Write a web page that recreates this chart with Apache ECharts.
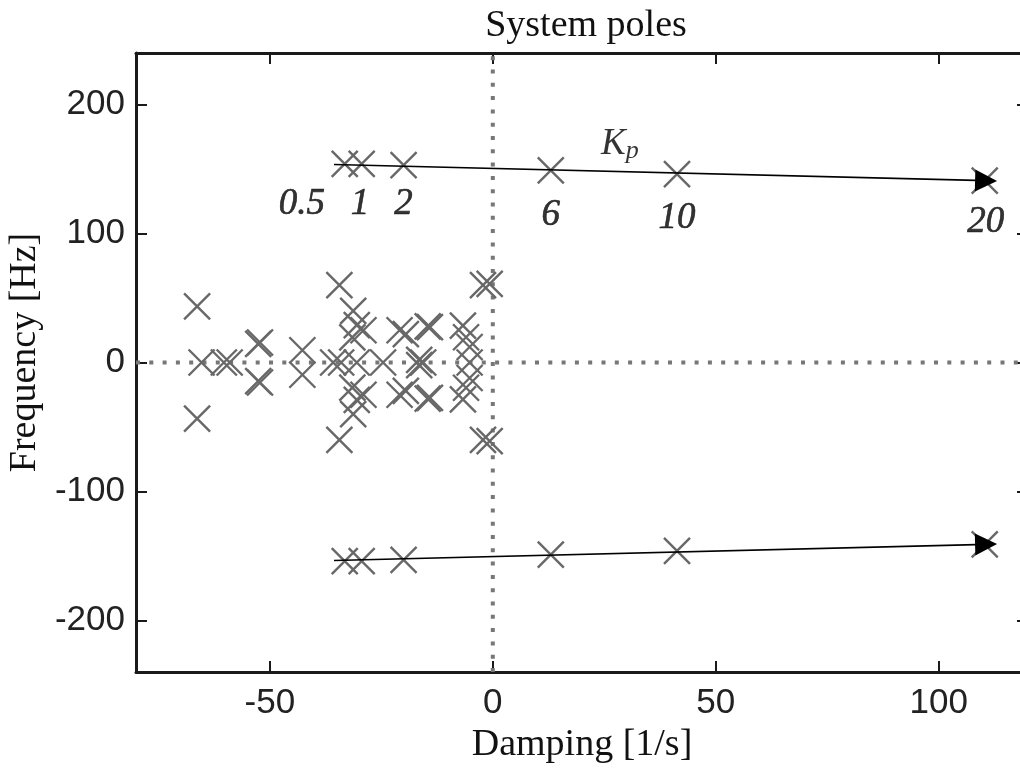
<!DOCTYPE html>
<html>
<head>
<meta charset="utf-8">
<script src="https://cdn.jsdelivr.net/npm/echarts@6/dist/echarts.min.js"></script>
<style>
  html, body { margin: 0; padding: 0; background: #fff; }
  #chart { width: 1020px; height: 769px; }
</style>
</head>
<body>
<div id="chart"></div>
<script>
// Closed-loop poles for gains Kp = 0.5 ... 20 (real part [1/s], imaginary part [Hz])

// Dominant branch, one pole per gain value (upper half-plane; the lower branch is its conjugate)
const kpValues   = ['0.5', '1', '2', '6', '10', '20'];
const branchRe   = [-33.2, -29.4, -20.0, 13.0, 41.3, 110.3];
const branchIm   = [154, 154, 153, 149, 146, 141];

// Locus arrow drawn through the dominant branch
const arrowStart = [-35.6, 153.5];
const arrowEnd   = [110.6, 141];

// Remaining poles (well damped modes), as [re, im]
const clusterPoles = [
  [-66.3, 43.5], [-66.3, -43.5], [-65.3, 0],
  [-60.3, 0], [-59.0, 0],
  [-52.6, 14.5], [-52.6, -14.5], [-52.2, 15.5], [-52.2, -15.5],
  [-42.7, 9.5], [-42.7, -9.5],
  [-34.4, 60], [-34.4, -60],
  [-35.8, 0], [-34.0, 0], [-30.5, 0],
  [-31.3, 40], [-31.3, -40], [-30.5, 29], [-30.5, -29], [-29.0, 25], [-29.0, -25],
  [-31.5, 19.5], [-31.5, -19.5],
  [-24.6, 0],
  [-20.9, 25], [-20.9, -25], [-19.5, 22], [-19.5, -22],
  [-14.1, 27.5], [-14.1, -27.5], [-14.6, 28], [-14.6, -28],
  [-15.6, 0], [-16.5, 2], [-16.5, -2],
  [-6.7, 28.6], [-6.7, -28.6], [-6.0, 19.6], [-6.0, -19.6],
  [-5.2, 12], [-5.2, -12], [-5.2, 0],
  [-2.2, 60], [-2.2, -60], [-0.7, 61], [-0.7, -61]
];

// Gain annotations, placed in data coordinates
const kpLabelPos = [[-42.8, 123], [-29.8, 123], [-20.0, 123], [13.0, 114], [41.3, 112], [110.5, 109]];
const kpTitlePos = [28.5, 169];

const xRange = [-80, 120];
const yRange = [-240, 240];
const xTickValues = [-50, 0, 50, 100];
const yTickValues = [-200, -100, 0, 100, 200];

const poleColor = '#686868';
const crossPath = 'path://M0,0L10,10M10,0L0,10';

const allPoles = [];
branchRe.forEach((re, i) => {
  allPoles.push([re, branchIm[i]]);
  allPoles.push([re, -branchIm[i]]);
});
clusterPoles.forEach(p => allPoles.push(p));

const chart = echarts.init(document.getElementById('chart'));

const serif = '"Liberation Serif", "DejaVu Serif", serif';
const sans = '"Liberation Sans", Arial, sans-serif';

const axisLine = { show: true, onZero: false, lineStyle: { color: '#1a1a1a', width: 3 } };
const tickStyle = { show: true, inside: true, length: 11, lineStyle: { color: '#1a1a1a', width: 2 } };
const zeroLineStyle = { color: '#777', width: 4, type: [4, 9.3], cap: 'butt' };

chart.setOption({
  animation: false,
  backgroundColor: '#fff',
  title: {
    text: 'System poles',
    left: 581, top: 2,
    textAlign: 'center',
    textStyle: { fontFamily: serif, fontSize: 38, fontWeight: 'normal', color: '#111' }
  },
  // the right edge of the frame sits just past the canvas
  grid: { left: 136, top: 53, width: 892, height: 619, containLabel: false, outerBoundsMode: 'none' },
  xAxis: [{
    type: 'value', min: xRange[0], max: xRange[1],
    axisLine,
    axisTick: Object.assign({}, tickStyle, { customValues: xTickValues }),
    splitLine: { show: false },
    axisLabel: {
      margin: 14, fontFamily: sans, fontSize: 35, color: '#222',
      customValues: xTickValues
    },
    name: 'Damping [1/s]', nameLocation: 'middle', nameGap: 50,
    nameTextStyle: { fontFamily: serif, fontSize: 38, color: '#111' }
  }, {
    type: 'value', position: 'top', min: xRange[0], max: xRange[1],
    axisLine, axisLabel: { show: false }, splitLine: { show: false },
    axisTick: Object.assign({}, tickStyle, { customValues: xTickValues })
  }],
  yAxis: [{
    type: 'value', min: yRange[0], max: yRange[1],
    axisLine, splitLine: { show: false },
    axisTick: Object.assign({}, tickStyle, { customValues: yTickValues }),
    axisLabel: {
      margin: 11, fontFamily: sans, fontSize: 35, color: '#222',
      customValues: yTickValues
    },
    name: 'Frequency [Hz]', nameLocation: 'middle', nameGap: 90, nameRotate: 90,
    nameTextStyle: { fontFamily: serif, fontSize: 38, color: '#111', padding: [0, 0, 0, 20] }
  }, {
    type: 'value', position: 'right', min: yRange[0], max: yRange[1],
    axisLine, axisLabel: { show: false }, splitLine: { show: false },
    axisTick: Object.assign({}, tickStyle, { customValues: yTickValues })
  }],
  series: [
    {
      // dotted imaginary axis
      name: 'reZero', type: 'line', silent: true, showSymbol: false, symbol: 'none',
      data: [[0, yRange[0]], [0, yRange[1]]],
      lineStyle: zeroLineStyle, z: 1
    },
    {
      // dotted real axis
      name: 'imZero', type: 'line', silent: true, showSymbol: false, symbol: 'none',
      data: [[xRange[0], 0], [xRange[1], 0]],
      lineStyle: zeroLineStyle, z: 1
    },
    {
      name: 'poles', type: 'scatter', data: allPoles,
      symbol: crossPath, symbolSize: 26,
      itemStyle: { color: 'none', borderColor: poleColor, borderWidth: 2.4, opacity: 1 },
      z: 3
    },
    {
      name: 'locus', type: 'lines', coordinateSystem: 'cartesian2d',
      symbol: ['none', 'triangle'], symbolSize: 22,
      lineStyle: { color: '#000', width: 1.6, opacity: 1 },
      itemStyle: { color: '#000' },
      data: [
        { coords: [arrowStart, arrowEnd] },
        { coords: [[arrowStart[0], -arrowStart[1]], [arrowEnd[0], -arrowEnd[1]]] }
      ],
      z: 4
    },
    {
      name: 'gains', type: 'scatter', symbolSize: 0,
      data: kpLabelPos.map((p, i) => ({ value: p, name: kpValues[i] })),
      label: {
        show: true, position: 'inside', formatter: '{b}',
        fontFamily: serif, fontStyle: 'italic', fontSize: 37, color: '#000',
        textBorderColor: '#000', textBorderWidth: 0.6
      },
      z: 5
    },
    {
      name: 'gainTitle', type: 'scatter', symbolSize: 0,
      data: [{ value: kpTitlePos }],
      label: {
        show: true, position: 'inside',
        formatter: '{k|K}{p|p}',
        rich: {
          k: { fontFamily: serif, fontStyle: 'italic', fontSize: 37, color: '#000' },
          p: { fontFamily: serif, fontStyle: 'italic', fontSize: 26, color: '#000', padding: [14, 0, 0, 0] }
        }
      },
      z: 5
    }
  ]
});
</script>
</body>
</html>
